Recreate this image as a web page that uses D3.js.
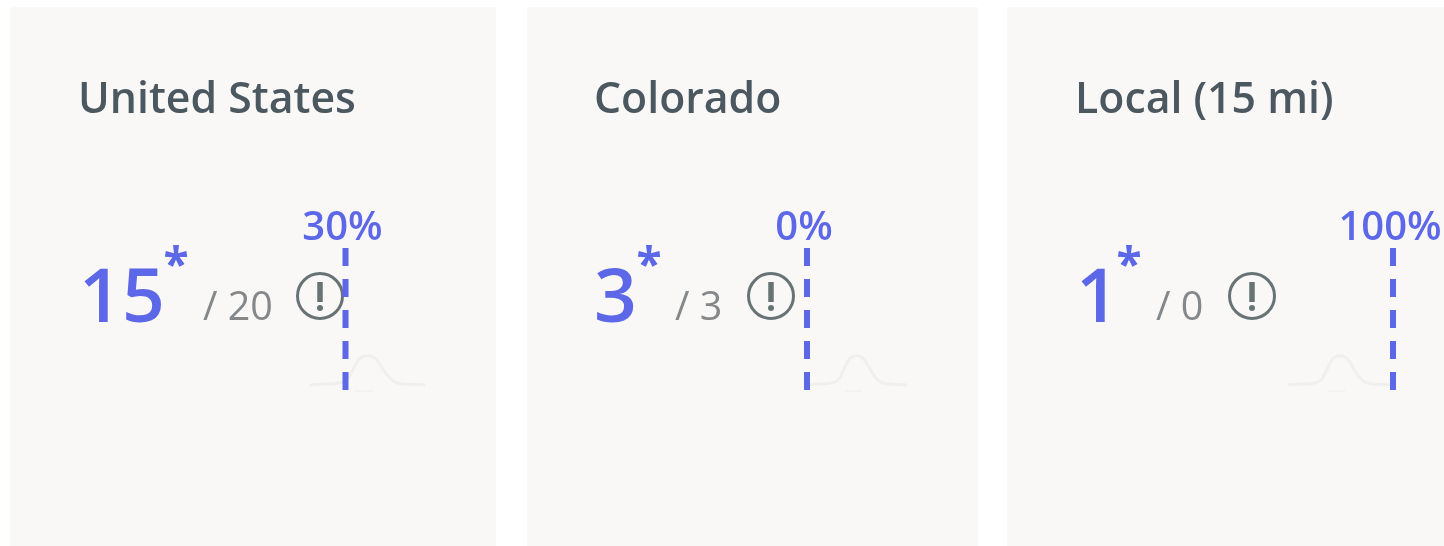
<!DOCTYPE html>
<html>
<head>
<meta charset="utf-8">
<script src="https://cdn.jsdelivr.net/npm/d3@7"></script>
<style>
  html, body { margin: 0; padding: 0; background: #fff; overflow: hidden; }
  text { font-family: "Open Sans", sans-serif; }
</style>
</head>
<body>
<svg id="chart" width="1444" height="546"></svg>
<script>
var regions = ["United States", "Colorado", "Local (15 mi)"];
var counts = [15, 3, 1];
var totals = [20, 3, 0];
var percents = [30, 0, 100];

// distribution sketch (percent of width, relative height)
var curvePercents = [0, 15, 28, 33, 38, 43, 50, 57, 62, 68, 74, 80, 100];
var curveLevels = [0, 1, 2, 5, 17, 28, 30, 28, 18, 8, 2, 1, 0];

// layout per panel
var panels = [
  {x: 10, w: 486, titleX: 78, textX: 79, starX: 176, slashX: 203, iconX: 320, curve: [310, 425]},
  {x: 527, w: 451, titleX: 594, textX: 594, starX: 649, slashX: 675, iconX: 771, curve: [806, 907]},
  {x: 1007, w: 437, titleX: 1075, textX: 1076, starX: 1129, slashX: 1156, iconX: 1252, curve: [1288, 1392]}
];

var svg = d3.select("#chart");

var defs = svg.append("defs");
defs.append("filter").attr("id", "soft")
  .attr("x", "-5%").attr("y", "-5%").attr("width", "110%").attr("height", "110%")
  .append("feGaussianBlur").attr("stdDeviation", 0.75);

var yLevel = d3.scaleLinear().domain([0, 30]).range([385, 355]);

var panel = svg.selectAll("g.panel").data(panels).enter().append("g")
  .attr("class", "panel")
  .attr("filter", "url(#soft)");

panel.append("rect")
  .attr("x", function(d) { return d.x; })
  .attr("y", 7)
  .attr("width", function(d) { return d.w; })
  .attr("height", 539)
  .attr("fill", "#f9f8f7");

panel.append("text")
  .attr("x", function(d) { return d.titleX; })
  .attr("y", 113)
  .attr("font-size", 42.8)
  .attr("font-weight", 600)
  .attr("fill", "#4b5860")
  .text(function(d, i) { return regions[i]; });

panel.append("text")
  .attr("x", function(d) { return d.textX; })
  .attr("y", 322)
  .attr("font-size", 75)
  .attr("font-weight", 600)
  .attr("fill", "#5c67e8")
  .text(function(d, i) { return counts[i]; });

panel.append("text")
  .attr("x", function(d) { return d.starX; })
  .attr("y", 281)
  .attr("text-anchor", "middle")
  .attr("font-size", 46)
  .attr("font-weight", 700)
  .attr("fill", "#5c67e8")
  .text("*");

panel.append("text")
  .attr("x", function(d) { return d.slashX; })
  .attr("y", 320)
  .attr("font-size", 39.5)
  .attr("fill", "#85888a")
  .text(function(d, i) { return "/ " + totals[i]; });

// warning icon
var icon = panel.append("g")
  .attr("transform", function(d) { return "translate(" + d.iconX + ",296)"; });
icon.append("circle")
  .attr("r", 22.5)
  .attr("fill", "none")
  .attr("stroke", "#687375")
  .attr("stroke-width", 3);
icon.append("line")
  .attr("y1", -14).attr("y2", 6)
  .attr("stroke", "#687375")
  .attr("stroke-width", 5.5);
icon.append("circle")
  .attr("cy", 12)
  .attr("r", 3)
  .attr("fill", "#687375");

// distribution curve and marker share one x scale
panel.each(function(d, i) {
  var g = d3.select(this);
  var x = d3.scaleLinear().domain([0, 100]).range(d.curve);

  var line = d3.line()
    .x(function(p) { return x(p); })
    .y(function(p, j) { return yLevel(curveLevels[j]); })
    .curve(d3.curveBasis);

  g.append("path")
    .attr("d", line(curvePercents))
    .attr("fill", "none")
    .attr("stroke", "#f0efed")
    .attr("stroke-width", 3);

  g.append("line")
    .attr("x1", x(39)).attr("x2", x(55))
    .attr("y1", 391).attr("y2", 391)
    .attr("stroke", "#f1f0ee")
    .attr("stroke-width", 1.5);

  g.append("line")
    .attr("x1", x(percents[i]) + 1).attr("x2", x(percents[i]) + 1)
    .attr("y1", 248).attr("y2", 390)
    .attr("stroke", "#5c67e8")
    .attr("stroke-width", 6)
    .attr("stroke-dasharray", "18 13");

  g.append("text")
    .attr("x", x(percents[i]) - 2)
    .attr("y", 240)
    .attr("text-anchor", "middle")
    .attr("font-size", 40)
    .attr("font-weight", 600)
    .attr("fill", "#5c67e8")
    .text(percents[i] + "%");
});
</script>
</body>
</html>
